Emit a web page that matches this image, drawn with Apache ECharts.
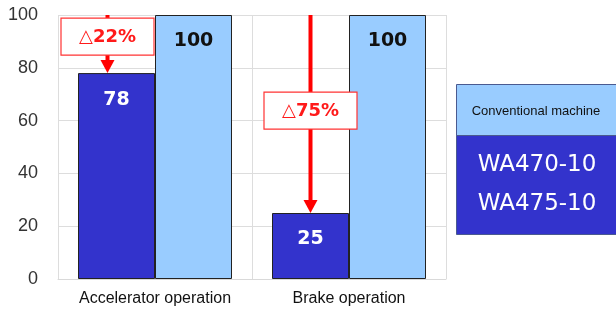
<!DOCTYPE html>
<html lang="en">
<head>
<meta charset="UTF-8">
<title>Operation frequency</title>
<script src="https://cdn.jsdelivr.net/npm/echarts@6/dist/echarts.min.js"></script>
<style>html,body{margin:0;padding:0;background:#fff}</style>
</head>
<body>
<div id="chart" style="width:616px;height:309px"></div>
<script>
var categories = ['Accelerator operation', 'Brake operation'];
var newValues = [78, 25];
var oldValues = [100, 100];
var reductions = ['△22%', '△75%'];
var newName = 'WA470-10\nWA475-10';
var oldName = 'Conventional machine';

// layout bits for the arrows (not data)
var barW = 77;
var arrowShift = [-9, 0];
var boxAt = [92, 64];

var darkBlue = '#3333CC';
var lightBlue = '#99CCFF';

var myChart = echarts.init(document.getElementById('chart'));

function renderArrow(params, api) {
    var i = params.dataIndex;
    var top = api.coord([i, api.value(1)]);
    var end = api.coord([i, api.value(2)]);
    var x = top[0] - barW / 2 + arrowShift[i];
    var boxC = api.coord([i, boxAt[i]]);
    return {
        type: 'group',
        children: [
            {type: 'line', shape: {x1: x, y1: top[1], x2: x, y2: end[1] - 12},
             style: {stroke: '#ff0000', lineWidth: 4}},
            {type: 'polygon', shape: {points: [[x - 7, end[1] - 13], [x + 7, end[1] - 13], [x, end[1]]]},
             style: {fill: '#ff0000'}},
            {type: 'rect', shape: {x: x - 46.5, y: boxC[1] - 18, width: 93, height: 37},
             style: {fill: '#fff', stroke: '#ff3333', lineWidth: 1.2}},
            {type: 'text', x: x, y: boxC[1] + 1,
             style: {text: reductions[i], fill: '#ff1a1a', font: 'bold 18px "DejaVu Sans", Verdana, sans-serif',
                     align: 'center', verticalAlign: 'middle'}}
        ]
    };
}

myChart.setOption({
    animation: false,
    grid: {left: 58, right: 170, top: 15, bottom: 30},
    xAxis: {
        type: 'category',
        data: categories,
        axisTick: {show: false},
        axisLine: {lineStyle: {color: '#d9d9d9'}},
        splitLine: {show: true, interval: 0, lineStyle: {color: '#dddddd'}},
        axisLabel: {interval: 0, color: '#111', fontSize: 16, margin: 12, fontFamily: '"Liberation Sans", Arial, sans-serif'}
    },
    yAxis: {
        type: 'value',
        min: 0,
        max: 100,
        interval: 20,
        axisLine: {show: false},
        axisTick: {show: false},
        splitLine: {lineStyle: {color: '#dddddd'}},
        axisLabel: {color: '#333', fontSize: 18, margin: 20, fontFamily: '"Liberation Sans", Arial, sans-serif'}
    },
    series: [
        {
            name: newName,
            type: 'bar',
            data: newValues,
            barWidth: barW,
            barGap: 0,
            itemStyle: {color: darkBlue, borderColor: '#222', borderWidth: 1},
            label: {show: true, position: 'insideTop', distance: 17, color: '#fff',
                    fontSize: 19, fontWeight: 'bold', fontFamily: '"DejaVu Sans", Verdana, sans-serif'}
        },
        {
            name: oldName,
            type: 'bar',
            data: oldValues,
            barWidth: barW,
            barGap: 0,
            itemStyle: {color: lightBlue, borderColor: '#222', borderWidth: 1},
            label: {show: true, position: 'insideTop', distance: 17, color: '#111',
                    fontSize: 19, fontWeight: 'bold', fontFamily: '"DejaVu Sans", Verdana, sans-serif'}
        },
        {
            type: 'custom',
            z: 10,
            renderItem: renderArrow,
            data: categories.map(function (c, i) { return [i, oldValues[i], newValues[i]]; })
        }
    ],
    graphic: [
        {type: 'rect', left: 456, top: 84, shape: {width: 162, height: 51},
         style: {fill: lightBlue, stroke: '#4a5a90', lineWidth: 1}},
        {type: 'rect', left: 456, top: 135, shape: {width: 162, height: 99},
         style: {fill: darkBlue, stroke: '#4a5a90', lineWidth: 1}},
        {type: 'text', x: 536, y: 111,
         style: {text: oldName, fill: '#111', font: '13px "Liberation Sans", Arial, sans-serif',
                 align: 'center', verticalAlign: 'middle'}},
        {type: 'text', x: 537, y: 185,
         style: {text: newName, fill: '#fff', font: '23px "DejaVu Sans", Verdana, sans-serif',
                 lineHeight: 39, align: 'center', verticalAlign: 'middle'}}
    ]
});
</script>
</body>
</html>
